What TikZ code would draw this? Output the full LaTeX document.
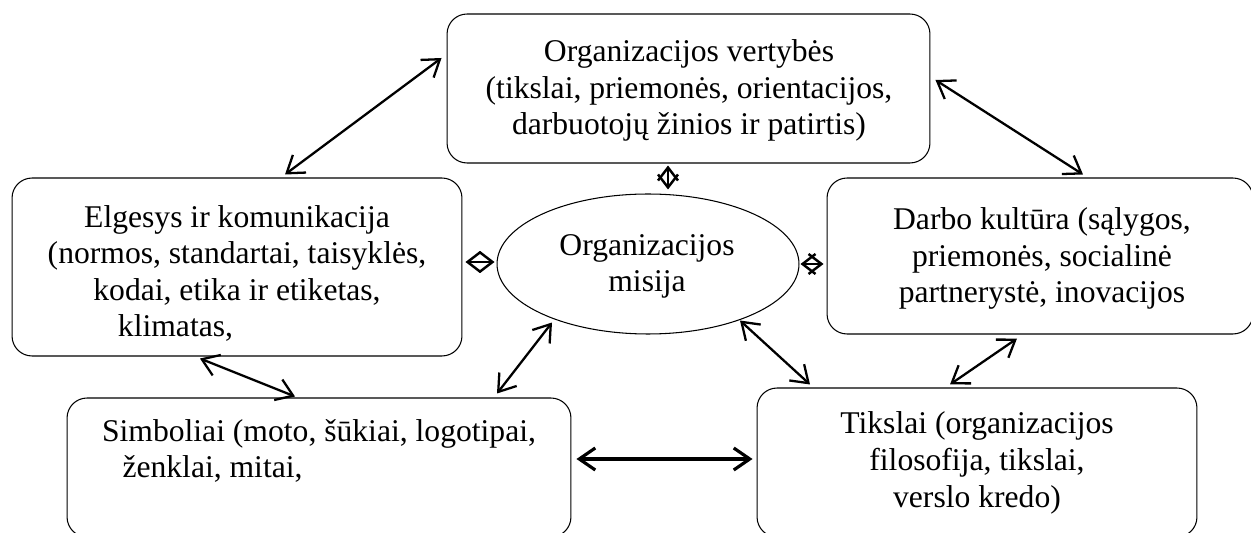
\documentclass[tikz,border=0pt]{standalone}
\usepackage{fontspec}
\setmainfont{Liberation Serif}
\usetikzlibrary{arrows.meta,shapes.geometric}

\tikzset{
  box/.style={draw, line width=0.6pt, rounded corners=0.4cm},
  txt/.style={align=center, inner sep=0pt, anchor=base, font=\fontsize{18}{20.8}\selectfont},
  link/.style={{Straight Barb[length=0.32cm,width=0.44cm]}-{Straight Barb[length=0.32cm,width=0.44cm]}, line width=1.3pt},
  tiny/.style={{Straight Barb[length=0.26cm,width=0.4cm]}-{Straight Barb[length=0.26cm,width=0.4cm]}, line width=1.4pt}
}

\begin{document}
\begin{tikzpicture}[x=0.02cm,y=-0.02cm]

    \useasboundingbox (0,0) rectangle (1251,533);
    \clip (0,0) rectangle (1251,533);

    % Boxes
    \node[box, minimum width=9.66cm, minimum height=2.98cm] (val) at (688.5,88.5) {};
    \node[box, minimum width=9cm, minimum height=3.56cm] (elg) at (237,267) {};
    \node[box, minimum width=8.52cm, minimum height=3.12cm] (darbo) at (1040,256) {};
    \node[box, minimum width=10.08cm, minimum height=2.78cm] (sim) at (319,467.5) {};
    \node[box, minimum width=8.8cm, minimum height=2.98cm] (tik) at (977,462.5) {};
    \node[draw, line width=0.6pt, ellipse, minimum width=6.04cm, minimum height=2.8cm] (mis) at (648,264) {};

    % Texts (placed at the baseline of the last line)
    \node[txt] (valtxt) at (689,135) {Organizacijos vertybės\\(tikslai, priemonės, orientacijos,\\darbuotojų žinios ir patirtis)};
    \node[txt] (elgtxt) at (237,337) {Elgesys ir komunikacija\\(normos, standartai, taisyklės,\\kodai, etika ir etiketas,\\klimatas,\hspace*{2.46cm}};
    \node[txt] (darbotxt) at (1042,303) {Darbo kultūra (sąlygos,\\priemonės, socialinė\\partnerystė, inovacijos};
    \node[txt] (simtxt) at (319,478) {Simboliai (moto, šūkiai, logotipai,\\ženklai, mitai,\hspace*{4.26cm}};
    \node[txt] (tiktxt) at (977,507) {Tikslai (organizacijos\\filosofija, tikslai,\\verslo kredo)};
    \node[txt] (mistxt) at (647,292) {Organizacijos\\misija};

    % Links around
    \draw[link] ([shift={(-5,-30.5)}]val.west) -- ([shift={(48,-3)}]elg.north);
    \draw[link] ([shift={(5,-8.5)}]val.east) -- ([shift={(43,-3)}]darbo.north);
    \draw[link] ([shift={(-37,2)}]elg.south) -- ([shift={(-24,-1)}]sim.north);
    \draw[link] ([shift={(-23,4)}]darbo.south) -- ([shift={(-27,-3)}]tik.north);
    \draw[link, line width=1.8pt] ([shift={(5,-8.5)}]sim.east) -- ([shift={(-4,-3.5)}]tik.west);

    % Links to the mission
    \draw[link] ([shift={(-96,-12)}]mis.south) -- ([shift={(178,-4)}]sim.north);
    \draw[link] ([shift={(92,-14)}]mis.south) -- ([shift={(-167,-3)}]tik.north);
    \draw[tiny] ([shift={(-20.5,2)}]val.south) -- ([shift={(20,-4)}]mis.north);
    \draw[tiny] ([shift={(3,-5)}]elg.east) -- ([shift={(-2,-2)}]mis.west);
    \draw[tiny] ([shift={(1,0)}]mis.east) -- ([shift={(-3,8)}]darbo.west);

\end{tikzpicture}
\end{document}
